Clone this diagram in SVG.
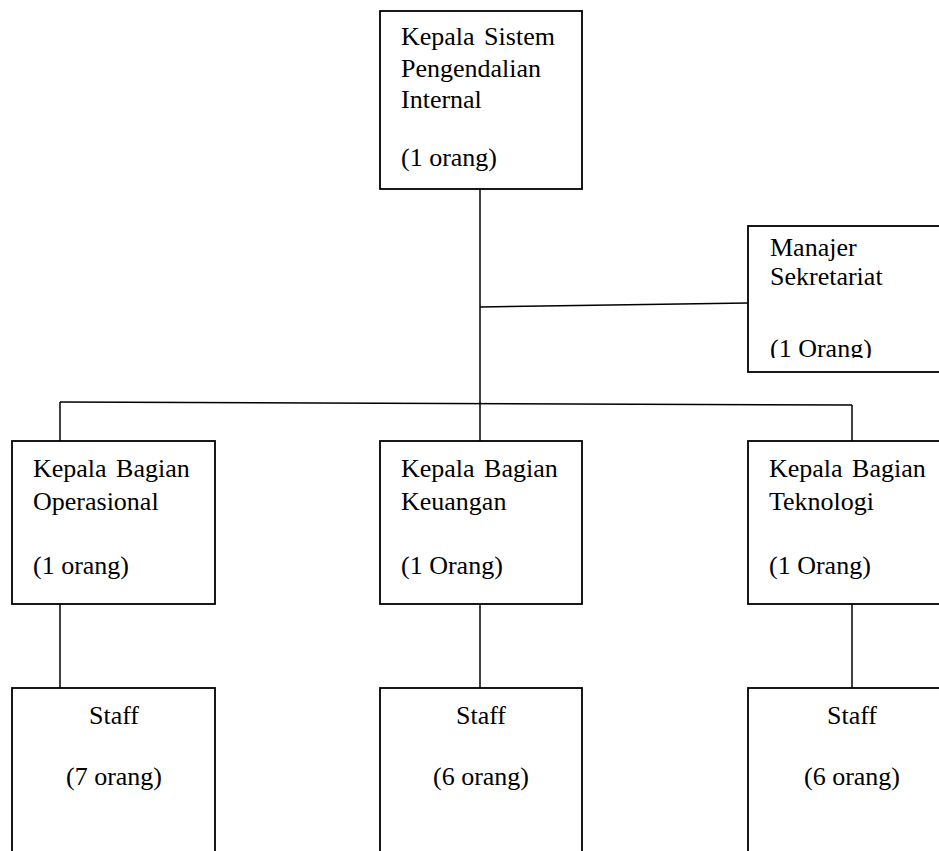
<svg xmlns="http://www.w3.org/2000/svg" width="939" height="851" viewBox="0 0 939 851">
<style>
.box{fill:#fff;stroke:#000;stroke-width:1.8}
.ln{fill:none;stroke:#000;stroke-width:1.5}
text{font-family:"Liberation Serif","Times New Roman",serif;font-size:26px;fill:#000}
.c{text-anchor:middle}
.j{word-spacing:3px}
</style>
<defs>
<clipPath id="clipMgr"><rect x="748" y="226" width="200" height="132"/></clipPath>
</defs>
<rect width="939" height="851" fill="#fff"/>
<g id="connectors">
<line class="ln" x1="480" y1="189" x2="480" y2="441"/>
<line class="ln" x1="480" y1="307" x2="748" y2="303"/>
<line class="ln" x1="60" y1="402" x2="852" y2="405"/>
<line class="ln" x1="60" y1="402" x2="60" y2="441"/>
<line class="ln" x1="852" y1="405" x2="852" y2="441"/>
<line class="ln" x1="60" y1="604" x2="60" y2="688"/>
<line class="ln" x1="480" y1="604" x2="480" y2="688"/>
<line class="ln" x1="852" y1="604" x2="852" y2="688"/>
</g>
<g id="kepala-spi">
<rect class="box" x="380" y="11" width="202" height="178"/>
<text class="j" x="401" y="45">Kepala Sistem</text>
<text x="401" y="77">Pengendalian</text>
<text x="401" y="108">Internal</text>
<text x="401" y="166">(1 orang)</text>
</g>
<g id="manajer-sekretariat">
<rect class="box" x="748" y="226" width="220" height="146"/>
<g clip-path="url(#clipMgr)">
<text x="770" y="256">Manajer</text>
<text x="770" y="285">Sekretariat</text>
<text x="770" y="357">(1 Orang)</text>
</g>
</g>
<g id="kabag-operasional">
<rect class="box" x="12" y="441" width="203" height="163"/>
<text class="j" x="33" y="477">Kepala Bagian</text>
<text x="33" y="510">Operasional</text>
<text x="33" y="574">(1 orang)</text>
</g>
<g id="kabag-keuangan">
<rect class="box" x="380" y="441" width="202" height="163"/>
<text class="j" x="401" y="477">Kepala Bagian</text>
<text x="401" y="510">Keuangan</text>
<text x="401" y="574">(1 Orang)</text>
</g>
<g id="kabag-teknologi">
<rect class="box" x="748" y="441" width="220" height="163"/>
<text class="j" x="769" y="477">Kepala Bagian</text>
<text x="769" y="510">Teknologi</text>
<text x="769" y="574">(1 Orang)</text>
</g>
<g id="staff-operasional">
<rect class="box" x="12" y="688" width="203" height="190"/>
<text class="c" x="114" y="724">Staff</text>
<text class="c" x="114" y="785">(7 orang)</text>
</g>
<g id="staff-keuangan">
<rect class="box" x="380" y="688" width="202" height="190"/>
<text class="c" x="481" y="724">Staff</text>
<text class="c" x="481" y="785">(6 orang)</text>
</g>
<g id="staff-teknologi">
<rect class="box" x="748" y="688" width="220" height="190"/>
<text class="c" x="852" y="724">Staff</text>
<text class="c" x="852" y="785">(6 orang)</text>
</g>
</svg>
